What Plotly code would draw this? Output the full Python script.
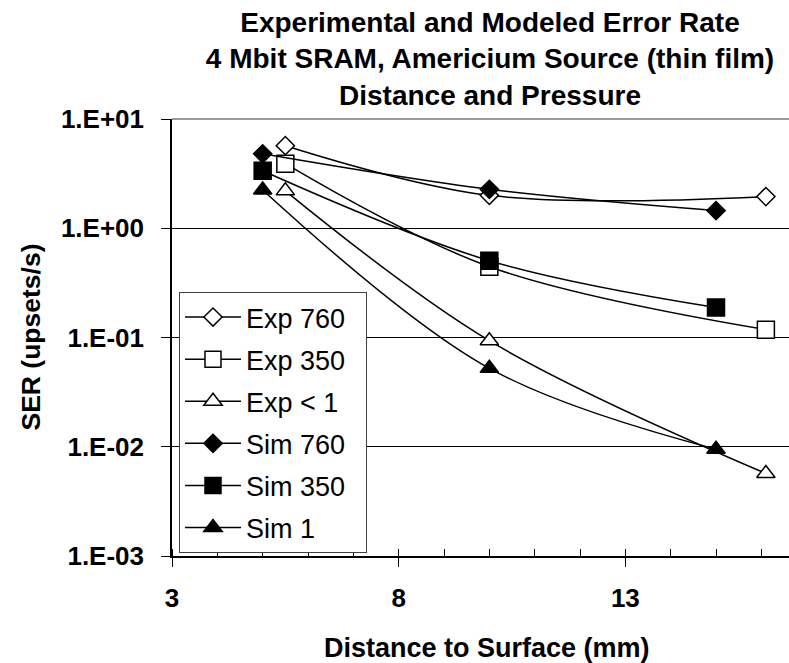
import plotly.graph_objects as go

# ---- data ----
exp_x = [5.5, 10, 16.1]
sim_x = [5, 10, 15]
exp_760 = [5.7, 2.0, 1.95]
exp_350 = [3.9, 0.445, 0.118]
exp_lt1 = [2.2, 0.0935, 0.0057]
sim_760 = [4.8, 2.27, 1.45]
sim_350 = [3.36, 0.505, 0.188]
sim_1 = [2.24, 0.0522, 0.0095]

series_names = ["Exp 760", "Exp 350", "Exp < 1", "Sim 760", "Sim 350", "Sim 1"]

y_tickvals = [0.001, 0.01, 0.1, 1, 10]
y_ticktext = ["1.E-03", "1.E-02", "1.E-01", "1.E+00", "1.E+01"]

FONT = "Liberation Sans, Arial, sans-serif"
PAD = "\u00a0\u00a0"  # invisible padding to widen the legend box

series = [
    (series_names[0], exp_x, exp_760, "diamond", "white", 14),
    (series_names[1], exp_x, exp_350, "square", "white", 17),
    (series_names[2], exp_x, exp_lt1, "triangle-up", "white", 16),
    (series_names[3], sim_x, sim_760, "diamond", "black", 14),
    (series_names[4], sim_x, sim_350, "square", "black", 17),
    (series_names[5], sim_x, sim_1, "triangle-up", "black", 16),
]

fig = go.Figure()
for i, (name, xs, ys, sym, fill, size) in enumerate(series):
    fig.add_trace(go.Scatter(
        x=xs, y=ys, name=name + PAD, mode="lines+markers",
        legendgroup="g%d" % i,
        line=dict(color="black", width=1.5, shape="spline", smoothing=1.0),
        marker=dict(symbol=sym, size=size, color=fill,
                    line=dict(color="black", width=1.5)),
    ))

fig.update_layout(
    width=789, height=663,
    margin=dict(l=172, r=0, t=119, b=107),
    paper_bgcolor="white", plot_bgcolor="white",
    font=dict(family=FONT, color="black"),
    title=dict(
        text="Experimental and Modeled Error Rate<br>4 Mbit SRAM, Americium Source (thin film)<br>Distance and Pressure",
        font=dict(family=FONT, size=28, weight="bold", color="black"),
        x=490 / 789, xref="container", xanchor="center",
        y=1 - 32 / 663, yref="container", yanchor="middle",
    ),
    showlegend=True,
    legend=dict(
        x=(179 - 172) / 617, y=(556 - 292) / 437, xanchor="left", yanchor="top",
        bgcolor="white", bordercolor="#404040", borderwidth=1,
        font=dict(family=FONT, size=27, color="black"),
        itemwidth=56, traceorder="grouped", tracegroupgap=4,
    ),
    xaxis=dict(
        range=[3, 16.61], tickmode="linear", tick0=3, dtick=5,
        showgrid=False, zeroline=False,
        showline=True, linecolor="black", linewidth=1.5,
        ticks="outside", ticklen=9, tickwidth=1.2, tickcolor="black",
        minor=dict(tickmode="linear", tick0=3, dtick=1, ticks="inside", ticklen=7,
                   tickwidth=1, tickcolor="black", showgrid=False),
        tickfont=dict(family=FONT, size=26, weight="bold", color="black"),
        ticklabelstandoff=9,
    ),
    yaxis=dict(
        type="log", range=[-3, 1], tickvals=y_tickvals, ticktext=y_ticktext,
        showgrid=True, gridcolor="black", gridwidth=1,
        zeroline=False, showline=True, linecolor="black", linewidth=1.5,
        ticks="outside", ticklen=9, tickwidth=1.2, tickcolor="black",
        tickfont=dict(family=FONT, size=26, weight="bold", color="black"),
        ticklabelstandoff=12,
    ),
    shapes=[dict(type="line", xref="paper", yref="paper", x0=0, x1=1, y0=1, y1=1,
                 line=dict(color="#9a9a9a", width=2), layer="above")],
    annotations=[
        dict(text="SER (upsets/s)", xref="paper", yref="paper", x=0, y=0.5,
             xshift=30 - 172, textangle=-90, showarrow=False,
             xanchor="center", yanchor="middle",
             font=dict(family=FONT, size=26.5, weight="bold", color="black")),
        dict(text="Distance to Surface (mm)", xref="paper", yref="paper",
             x=(487 - 172) / 617, y=0, yshift=-(648 - 556), showarrow=False,
             xanchor="center", yanchor="middle",
             font=dict(family=FONT, size=27, weight="bold", color="black")),
    ],
)

fig.write_html("out.html")
